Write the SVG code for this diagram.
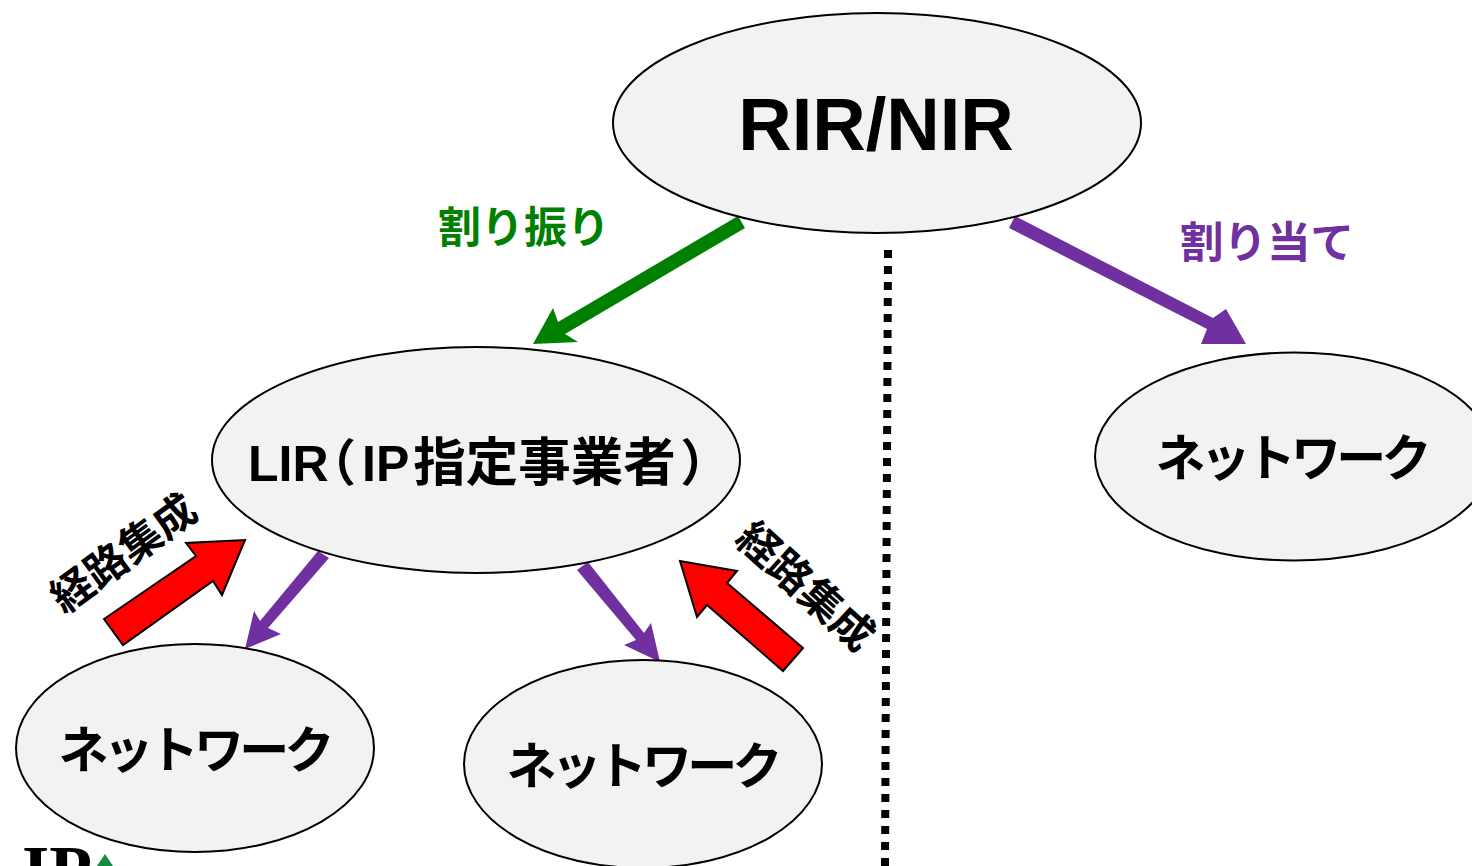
<svg xmlns="http://www.w3.org/2000/svg" width="1472" height="866" viewBox="0 0 1472 866">
<style>
.n{fill:#f2f2f2;stroke:#000;stroke-width:2}
text{font-family:"Liberation Sans","Noto Sans CJK JP",sans-serif;font-weight:bold;fill:#000;text-anchor:middle}
.l{font-size:50px;text-anchor:start}
.k{font-size:50px;letter-spacing:-4.8px}
.s{font-size:43.5px}
.r{fill:#f00;stroke:#000;stroke-width:2;stroke-linejoin:miter}
.p{fill:#7030a0}
</style>
<rect width="1472" height="866" fill="#fff"/>
<g id="connectors">
<polygon fill="#008000" points="738,216 745,228 565,334 578,342 533,344 553,308 558,322"/>
<polygon class="p" points="1015,216 1009,228 1207,329 1201,344 1246,344 1226,309 1213,318"/>
<polygon class="p" points="318,551 329,558 268,628 281,634 245,649 254,611 260,621"/>
<polygon class="p" points="577,570 588,562 644,633 651,623 660,662 624,645 636,640"/>
<line x1="888" y1="250" x2="885" y2="866" stroke="#000" stroke-width="8" stroke-dasharray="8 8"/>
<polygon class="r" points="104,619 196,556 186,543 245,540 222,595 213,581 123,645"/>
<polygon class="r" points="803,648 727,583 737,571 680,561 697,617 707,605 783,671"/>
</g>
<g id="rir"><ellipse class="n" cx="877" cy="123" rx="264" ry="110"/><text x="876" y="150" font-size="74">RIR/NIR</text></g>
<g id="lir"><ellipse class="n" cx="476" cy="460" rx="264" ry="113"/><text x="248" y="481" class="l">LIR<tspan dx="-22.5">（</tspan><tspan dx="6">IP</tspan><tspan dx="4" font-size="52.5">指定事業者</tspan><tspan dx="4.5">）</tspan></text></g>
<g id="net1"><ellipse class="n" cx="1294" cy="456.5" rx="199" ry="104"/><text x="1291" y="476" class="k">ネットワーク</text></g>
<g id="net2"><ellipse class="n" cx="195" cy="748" rx="179" ry="104"/><text x="194" y="768" class="k">ネットワーク</text></g>
<g id="net3"><ellipse class="n" cx="643" cy="764" rx="179" ry="104"/><text x="642" y="784" class="k">ネットワーク</text></g>
<g id="labels">
<text x="524" y="243" font-size="43" style="fill:#008000">割り振り</text>
<text x="1267" y="258" class="s" style="fill:#7030a0">割り当て</text>
<text font-size="42" transform="translate(124,554) rotate(-36)" dy="14">経路集成</text>
<text font-size="42" transform="translate(805,587) rotate(42)" dy="14">経路集成</text>
</g>
<g id="logo">
<text x="57" y="894" font-size="70" style="font-family:'Liberation Serif',serif">IP</text>
<polygon points="105,854 97,866 113,866" fill="#128c3e"/>
</g>
</svg>
